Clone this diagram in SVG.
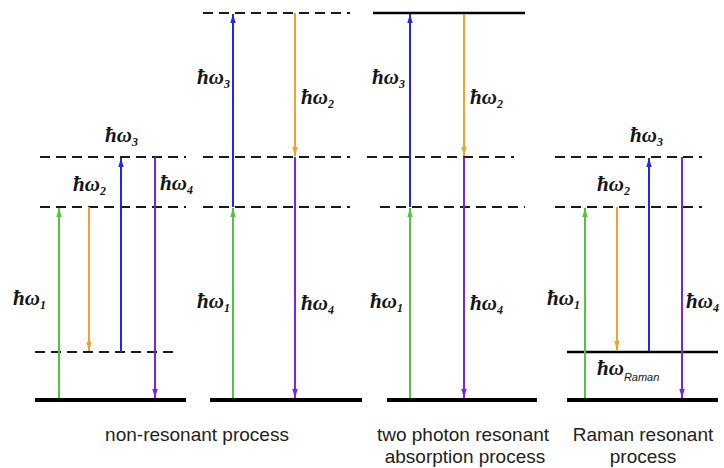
<svg xmlns="http://www.w3.org/2000/svg" width="724" height="468" viewBox="0 0 724 468">
<style>
.dash{stroke:#1a1a1a;stroke-width:2;stroke-dasharray:10 6;fill:none}
.solid{stroke:#000;stroke-width:2.5;fill:none}
.base{stroke:#000;stroke-width:4;fill:none}
.g{stroke:#4cc83c;stroke-width:2;marker-end:url(#mg)}
.o{stroke:#f5a02a;stroke-width:2;marker-end:url(#mo)}
.b{stroke:#2424ee;stroke-width:2;marker-end:url(#mb)}
.p{stroke:#7a22ec;stroke-width:2;marker-end:url(#mp)}
.lab{font-family:"Liberation Serif","DejaVu Serif",serif;font-style:italic;font-weight:bold;font-size:21px;fill:#151515}
.sub{font-size:12px}
.rsub{font-family:"Liberation Sans",Arial,sans-serif;font-style:italic;font-weight:normal;font-size:11px}
.cap{font-family:"Liberation Sans",Arial,sans-serif;font-size:19px;fill:#222;text-anchor:middle}
</style>
<defs>
<marker id="mg" viewBox="0 0 10 10" refX="10" refY="5" markerWidth="4.5" markerHeight="4.5" orient="auto" markerUnits="strokeWidth"><path d="M0,2L10,5L0,8z" fill="#4cc83c"/></marker>
<marker id="mo" viewBox="0 0 10 10" refX="10" refY="5" markerWidth="4.5" markerHeight="4.5" orient="auto" markerUnits="strokeWidth"><path d="M0,2L10,5L0,8z" fill="#f5a02a"/></marker>
<marker id="mb" viewBox="0 0 10 10" refX="10" refY="5" markerWidth="4.5" markerHeight="4.5" orient="auto" markerUnits="strokeWidth"><path d="M0,2L10,5L0,8z" fill="#2424ee"/></marker>
<marker id="mp" viewBox="0 0 10 10" refX="10" refY="5" markerWidth="4.5" markerHeight="4.5" orient="auto" markerUnits="strokeWidth"><path d="M0,2L10,5L0,8z" fill="#7a22ec"/></marker>
</defs>
<rect width="724" height="468" fill="#fff"/>

<g id="levels">
<!-- panel 1 -->
<line class="dash" x1="40" y1="157" x2="186" y2="157"/>
<line class="dash" x1="40" y1="207" x2="186" y2="207"/>
<line class="dash" x1="35" y1="352" x2="178" y2="352"/>
<line class="base" x1="35" y1="400" x2="186" y2="400"/>
<!-- panel 2 -->
<line class="dash" x1="203" y1="13" x2="350" y2="13"/>
<line class="dash" x1="203" y1="157" x2="350" y2="157"/>
<line class="dash" x1="203" y1="207" x2="350" y2="207"/>
<line class="base" x1="210" y1="400" x2="362" y2="400"/>
<!-- panel 3 -->
<line class="solid" x1="373" y1="13" x2="525" y2="13"/>
<line class="dash" x1="367" y1="157" x2="514" y2="157"/>
<line class="dash" x1="380" y1="207" x2="525" y2="207"/>
<line class="base" x1="387" y1="400" x2="537" y2="400"/>
<!-- panel 4 -->
<line class="dash" x1="555" y1="157" x2="702" y2="157"/>
<line class="dash" x1="555" y1="207" x2="702" y2="207"/>
<line class="solid" x1="567" y1="352" x2="718" y2="352"/>
<line class="base" x1="567" y1="400" x2="718" y2="400"/>
</g>

<g id="connectors">
<line class="g" x1="59" y1="398" x2="59" y2="208"/>
<line class="o" x1="89" y1="207" x2="89" y2="351"/>
<line class="b" x1="121" y1="352" x2="121" y2="158"/>
<line class="p" x1="155" y1="157" x2="155" y2="398"/>

<line class="g" x1="233" y1="398" x2="233" y2="208"/>
<line class="b" x1="233" y1="207" x2="233" y2="14"/>
<line class="o" x1="295" y1="13" x2="295" y2="156"/>
<line class="p" x1="295" y1="157" x2="295" y2="398"/>

<line class="g" x1="410" y1="398" x2="410" y2="208"/>
<line class="b" x1="410" y1="207" x2="410" y2="14"/>
<line class="o" x1="464" y1="14" x2="464" y2="156"/>
<line class="p" x1="464" y1="157" x2="464" y2="398"/>

<line class="g" x1="585" y1="398" x2="585" y2="208"/>
<line class="o" x1="617" y1="207" x2="617" y2="350"/>
<line class="b" x1="649" y1="351" x2="649" y2="158"/>
<line class="p" x1="682" y1="157" x2="682" y2="398"/>
</g>

<g id="labels">
<text class="lab" x="105" y="142">ħω<tspan class="sub" dy="4">3</tspan></text>
<text class="lab" x="73" y="191">ħω<tspan class="sub" dy="4">2</tspan></text>
<text class="lab" x="160" y="190">ħω<tspan class="sub" dy="4">4</tspan></text>
<text class="lab" x="13" y="305">ħω<tspan class="sub" dy="4">1</tspan></text>

<text class="lab" x="197" y="84">ħω<tspan class="sub" dy="4">3</tspan></text>
<text class="lab" x="301" y="104">ħω<tspan class="sub" dy="4">2</tspan></text>
<text class="lab" x="197" y="308">ħω<tspan class="sub" dy="4">1</tspan></text>
<text class="lab" x="301" y="310">ħω<tspan class="sub" dy="4">4</tspan></text>

<text class="lab" x="372" y="84">ħω<tspan class="sub" dy="4">3</tspan></text>
<text class="lab" x="470" y="104">ħω<tspan class="sub" dy="4">2</tspan></text>
<text class="lab" x="370" y="308">ħω<tspan class="sub" dy="4">1</tspan></text>
<text class="lab" x="470" y="310">ħω<tspan class="sub" dy="4">4</tspan></text>

<text class="lab" x="630" y="142">ħω<tspan class="sub" dy="4">3</tspan></text>
<text class="lab" x="597" y="191">ħω<tspan class="sub" dy="4">2</tspan></text>
<text class="lab" x="547" y="305">ħω<tspan class="sub" dy="4">1</tspan></text>
<text class="lab" x="686" y="308">ħω<tspan class="sub" dy="4">4</tspan></text>
<text class="lab" x="597" y="375">ħω<tspan class="rsub" dy="6">Raman</tspan></text>
</g>

<g id="captions">
<text class="cap" x="197" y="441">non-resonant process</text>
<text class="cap" x="463" y="441">two photon resonant</text>
<text class="cap" x="465" y="463">absorption process</text>
<text class="cap" x="643" y="441">Raman resonant</text>
<text class="cap" x="643" y="463">process</text>
</g>
</svg>
